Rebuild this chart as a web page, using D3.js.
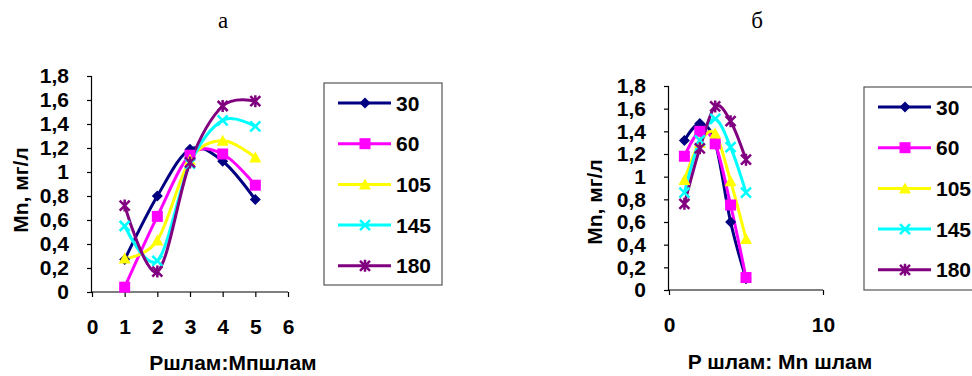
<!DOCTYPE html>
<html><head><meta charset="utf-8">
<script src="https://cdn.jsdelivr.net/npm/d3@7"></script>
<style>
html,body{margin:0;padding:0;background:#fff;}
text{font-family:"Liberation Sans",Arial,sans-serif;font-weight:bold;font-size:21px;fill:#000;}
.ttl{font-family:"Liberation Serif","Times New Roman",serif;font-weight:normal;font-size:23px;}
</style></head>
<body>
<svg id="c" width="972" height="376"></svg>
<script>
// ---- data ----
const seriesNames = ["30", "60", "105", "145", "180"];
const xValues = [1, 2, 3, 4, 5];
// chart "а"
const a30  = [0.27, 0.80, 1.19, 1.09, 0.77];
const a60  = [0.04, 0.63, 1.14, 1.15, 0.89];
const a105 = [0.28, 0.43, 1.10, 1.26, 1.12];
const a145 = [0.55, 0.26, 1.07, 1.43, 1.38];
const a180 = [0.72, 0.17, 1.08, 1.55, 1.59];
// chart "б"
const b30  = [1.32, 1.47, 1.30, 0.60, 0.10];
const b60  = [1.18, 1.40, 1.29, 0.75, 0.11];
const b105 = [0.97, 1.30, 1.38, 0.96, 0.45];
const b145 = [0.86, 1.32, 1.51, 1.26, 0.86];
const b180 = [0.76, 1.25, 1.62, 1.49, 1.15];
const yTicks = [0, 0.2, 0.4, 0.6, 0.8, 1, 1.2, 1.4, 1.6, 1.8];
const xTicksA = [0, 1, 2, 3, 4, 5, 6];
const xTicksB = [0, 10];
const colors = ["#000080", "#FF00FF", "#FFFF00", "#00FFFF", "#800080"];
const markers = ["diamond", "square", "triangle", "x", "star"];

const svg = d3.select("#c");
const fmt = v => String(v).replace(".", ",");

function marker(g, type, color, x, y) {
  const s = 5.5;
  if (type === "diamond") {
    g.append("path").attr("d", `M${x},${y-s}L${x+s},${y}L${x},${y+s}L${x-s},${y}Z`).attr("fill", color);
  } else if (type === "square") {
    g.append("rect").attr("x", x-5.5).attr("y", y-5.5).attr("width", 11).attr("height", 11).attr("fill", color);
  } else if (type === "triangle") {
    g.append("path").attr("d", `M${x},${y-6}L${x+6},${y+5}L${x-6},${y+5}Z`).attr("fill", color);
  } else if (type === "x") {
    g.append("path").attr("d", `M${x-5},${y-5}L${x+5},${y+5}M${x-5},${y+5}L${x+5},${y-5}`).attr("stroke", color).attr("stroke-width", 2.5);
  } else {
    g.append("path").attr("d", `M${x-5},${y-5}L${x+5},${y+5}M${x-5},${y+5}L${x+5},${y-5}M${x},${y-6}L${x},${y+6}`).attr("stroke", color).attr("stroke-width", 2.5);
  }
}

function drawChart(cfg) {
  const x = d3.scaleLinear().domain(cfg.xDomain).range([cfg.left, cfg.right]);
  const y = d3.scaleLinear().domain([0, 1.8]).range([cfg.bottom, cfg.top]);
  const g = svg.append("g");

  // axes
  const ya = g.append("g").attr("transform", `translate(${cfg.left},0)`)
    .call(d3.axisLeft(y).tickValues(yTicks).tickFormat(fmt).tickSize(5).tickPadding(cfg.yPad));
  const xa = g.append("g").attr("transform", `translate(0,${cfg.bottom})`)
    .call(d3.axisBottom(x).tickValues(cfg.xTicks).tickFormat(d => d).tickSize(5).tickPadding(cfg.xPad));
  [ya, xa].forEach(a => {
    a.attr("font-size", null).attr("font-family", null);
    a.select(".domain").attr("stroke", "#000").attr("stroke-width", 1.2);
    a.selectAll(".tick line").attr("stroke", "#000").attr("stroke-width", 1.2);
  });
  ya.select(".domain").attr("d", `M-0.5,${cfg.bottom}V${cfg.top}`);
  xa.select(".domain").attr("d", `M${cfg.left},0H${cfg.right}`);

  // lines
  const line = d3.line().x((d, i) => x(xValues[i])).y(d => y(d)).curve(d3.curveCatmullRom.alpha(0));
  cfg.series.forEach((vals, si) => {
    g.append("path").attr("d", line(vals)).attr("fill", "none")
      .attr("stroke", colors[si]).attr("stroke-width", 3);
  });
  cfg.series.forEach((vals, si) => {
    vals.forEach((v, i) => marker(g, markers[si], colors[si], x(xValues[i]), y(v)));
  });

  // axis titles
  g.append("text").attr("transform", `translate(${cfg.yTitleX},${cfg.yTitleY}) rotate(-90)`)
    .attr("text-anchor", "middle").attr("dy", "0.35em").text("Mn, мг/л");
  g.append("text").attr("x", cfg.xTitleX).attr("y", cfg.xTitleY).attr("text-anchor", "middle").text(cfg.xTitle);
  g.append("text").attr("class", "ttl").attr("x", cfg.titleX).attr("y", 28).attr("text-anchor", "middle").text(cfg.title);

  // legend
  const L = cfg.legend;
  g.append("rect").attr("x", L.x).attr("y", L.y).attr("width", L.w).attr("height", L.h)
    .attr("fill", "#fff").attr("stroke", "#555").attr("stroke-width", 1.2);
  seriesNames.forEach((name, si) => {
    const ly = L.y + 20 + si * 40.7;
    g.append("line").attr("x1", L.x + 14).attr("x2", L.x + 67).attr("y1", ly).attr("y2", ly)
      .attr("stroke", colors[si]).attr("stroke-width", 3);
    marker(g, markers[si], colors[si], L.x + 41, ly);
    g.append("text").attr("x", L.x + 72).attr("y", ly).attr("dy", "0.36em").text(name);
  });
}

drawChart({
  xDomain: [0, 6], xTicks: xTicksA, left: 92, right: 288, top: 76, bottom: 292,
  yPad: 18, xPad: 22,
  series: [a30, a60, a105, a145, a180],
  yTitleX: 21, yTitleY: 190, xTitle: "Ршлам:Мпшлам", xTitleX: 233, xTitleY: 370,
  title: "а", titleX: 223,
  legend: {x: 324, y: 83, w: 118, h: 202}
});
drawChart({
  xDomain: [0, 10], xTicks: xTicksB, left: 669, right: 823, top: 86, bottom: 290,
  yPad: 18, xPad: 22,
  series: [b30, b60, b105, b145, b180],
  yTitleX: 595, yTitleY: 202, xTitle: "P шлам: Mn шлам", xTitleX: 780, xTitleY: 369,
  title: "б", titleX: 757,
  legend: {x: 864, y: 87, w: 130, h: 203}
});
</script>
</body></html>
